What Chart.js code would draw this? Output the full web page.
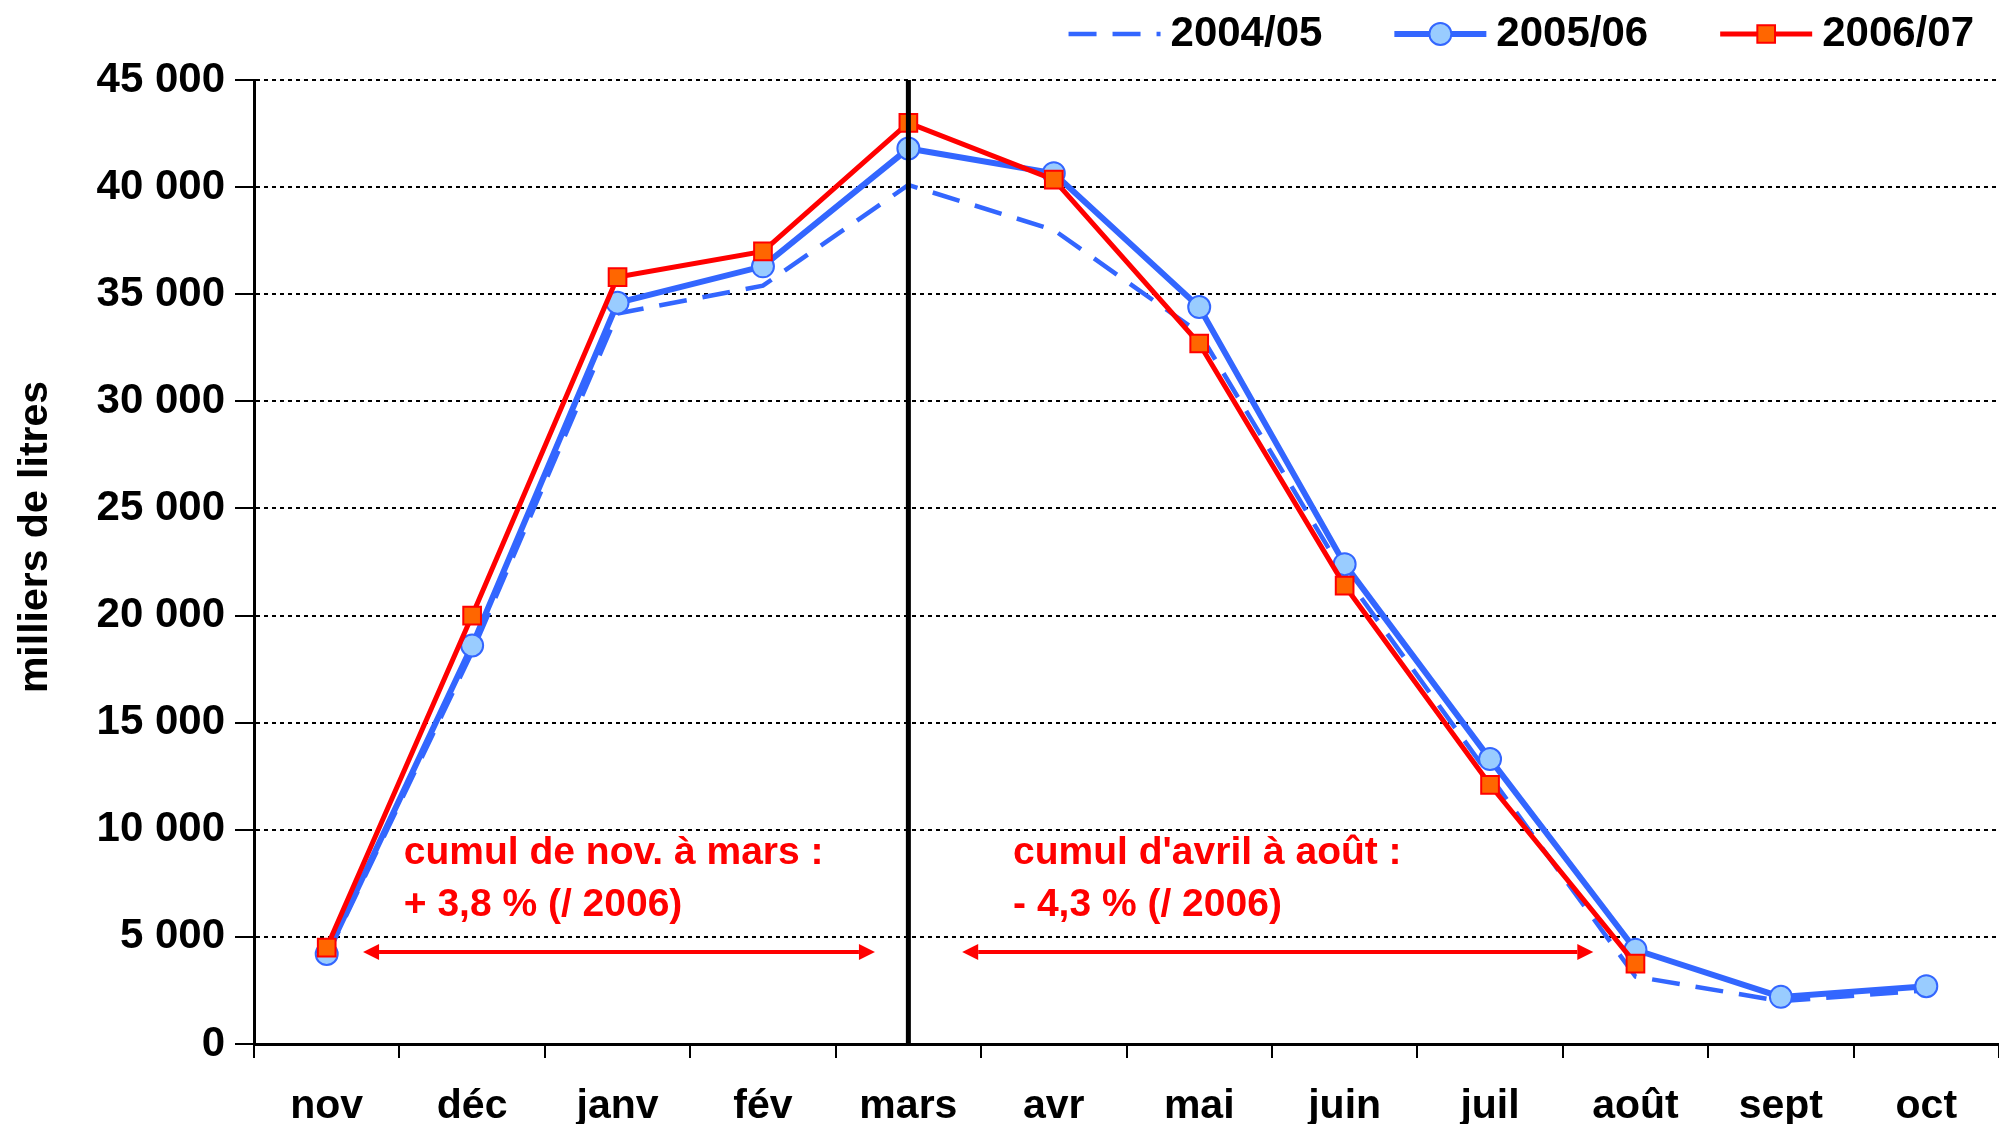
<!DOCTYPE html>
<html lang="fr">
<head>
<meta charset="utf-8">
<script src="https://cdn.jsdelivr.net/npm/chart.js@4.4.1/dist/chart.umd.min.js"></script>
<style>
    html, body { margin: 0; padding: 0; background: #fff; }
    #wrap { width: 1999px; height: 1124px; }
</style>
</head>
<body>
<div id="wrap"><canvas id="chart" width="1999" height="1124"></canvas></div>
<script>
// Données (milliers de litres)
const months = ['nov', 'déc', 'janv', 'fév', 'mars', 'avr', 'mai', 'juin', 'juil', 'août', 'sept', 'oct'];
const seriesNames = ['2004/05', '2005/06', '2006/07'];
const values0405 = [4100, 18300, 34100, 35400, 40100, 38000, 33200, 21900, 12500, 3150, 2000, 2500];
const values0506 = [4200, 18600, 34600, 36300, 41800, 40650, 34400, 22400, 13300, 4400, 2200, 2700];
const values0607 = [4500, 20000, 35800, 37000, 43000, 40350, 32700, 21400, 12100, 3750, null, null];
const yMin = 0, yMax = 45000, yStep = 5000;
const yTitle = 'milliers de litres';

// Annotations : texte, position (indice de mois, valeur)
const noteTexts = [
    ['cumul de nov. à mars :', '+ 3,8 % (/ 2006)'],
    ["cumul d'avril à août :", '- 4,3 % (/ 2006)']
];
const noteAnchors = [[0.53, 8900, 6500], [4.72, 8900, 6500]];
const arrowSpans = [[0.25, 3.77, 4300], [4.37, 8.71, 4300]];
const splitMonth = 'mars';

const FONT = "'Liberation Sans', Arial, sans-serif";

function fmt(v) {
    return String(v).replace(/\B(?=(\d{3})+(?!\d))/g, ' ');
}

// ligne verticale à mars
const splitLine = {
    id: 'splitLine',
    afterDatasetsDraw(chart) {
        const { ctx, chartArea, scales } = chart;
        const x = scales.x.getPixelForValue(months.indexOf(splitMonth));
        ctx.save();
        ctx.strokeStyle = '#000';
        ctx.lineWidth = 5;
        ctx.beginPath();
        ctx.moveTo(x, chartArea.top);
        ctx.lineTo(x, chartArea.bottom);
        ctx.stroke();
        ctx.restore();
    }
};

// titre de l'axe y
const axisTitle = {
    id: 'axisTitle',
    afterDraw(chart) {
        const ctx = chart.ctx;
        ctx.save();
        ctx.translate(36, 537);
        ctx.rotate(-Math.PI / 2);
        ctx.font = 'bold 41px ' + FONT;
        ctx.fillStyle = '#000';
        ctx.textAlign = 'center';
        ctx.textBaseline = 'middle';
        ctx.fillText(yTitle, 0, 0);
        ctx.restore();
    }
};

// textes rouges + flèches
const notes = {
    id: 'notes',
    afterDraw(chart) {
        const { ctx, scales } = chart;
        ctx.save();
        ctx.fillStyle = '#FF0000';
        ctx.strokeStyle = '#FF0000';
        ctx.font = 'bold 39px ' + FONT;
        ctx.textBaseline = 'middle';
        ctx.textAlign = 'left';
        noteTexts.forEach((lines, i) => {
            const [xi, v1, v2] = noteAnchors[i];
            const x = scales.x.getPixelForValue(xi);
            ctx.fillText(lines[0], x, scales.y.getPixelForValue(v1));
            ctx.fillText(lines[1], x, scales.y.getPixelForValue(v2));
        });
        arrowSpans.forEach(([a, b, v]) => {
            const x1 = scales.x.getPixelForValue(a);
            const x2 = scales.x.getPixelForValue(b);
            const y = scales.y.getPixelForValue(v);
            const head = 16, half = 8;
            ctx.lineWidth = 4;
            ctx.beginPath();
            ctx.moveTo(x1 + head, y);
            ctx.lineTo(x2 - head, y);
            ctx.stroke();
            ctx.beginPath();
            ctx.moveTo(x1, y);
            ctx.lineTo(x1 + head, y - half);
            ctx.lineTo(x1 + head, y + half);
            ctx.closePath();
            ctx.fill();
            ctx.beginPath();
            ctx.moveTo(x2, y);
            ctx.lineTo(x2 - head, y - half);
            ctx.lineTo(x2 - head, y + half);
            ctx.closePath();
            ctx.fill();
        });
        ctx.restore();
    }
};

// légende en haut à droite (trait + marqueur)
const topLegend = {
    id: 'topLegend',
    afterDraw(chart) {
        const ctx = chart.ctx;
        const sets = chart.data.datasets;
        const y = 34;
        let x = 1974;
        ctx.save();
        ctx.font = 'bold 42px ' + FONT;
        ctx.textBaseline = 'middle';
        ctx.textAlign = 'left';
        for (let i = sets.length - 1; i >= 0; i--) {
            const ds = sets[i];
            const w = ctx.measureText(ds.label).width;
            const tx = x - w;
            ctx.fillStyle = '#000';
            ctx.fillText(ds.label, tx, y);
            const lx2 = tx - 10, lx1 = lx2 - 92;
            ctx.strokeStyle = ds.borderColor;
            ctx.lineWidth = ds.borderWidth;
            ctx.setLineDash(ds.borderDash || []);
            ctx.beginPath();
            ctx.moveTo(lx1, y);
            ctx.lineTo(lx2, y);
            ctx.stroke();
            ctx.setLineDash([]);
            if (ds.pointRadius > 0) {
                ctx.fillStyle = ds.pointBackgroundColor;
                ctx.strokeStyle = ds.pointBorderColor;
                ctx.lineWidth = ds.pointBorderWidth;
                Chart.helpers.drawPoint(ctx, {
                    pointStyle: ds.pointStyle,
                    radius: ds.pointRadius,
                    borderWidth: ds.pointBorderWidth,
                    rotation: 0
                }, (lx1 + lx2) / 2, y);
            }
            x = lx1 - 72;
        }
        ctx.restore();
    }
};

const ctx = document.getElementById('chart').getContext('2d');
new Chart(ctx, {
    type: 'line',
    data: {
        labels: months,
        datasets: [
            {
                label: seriesNames[0],
                data: values0405,
                order: 2,
                borderColor: '#3366FF',
                borderWidth: 4.5,
                borderDash: [28, 16],
                pointRadius: 0,
                fill: false,
                tension: 0
            },
            {
                label: seriesNames[1],
                data: values0506,
                order: 1,
                borderColor: '#3366FF',
                borderWidth: 6,
                pointStyle: 'circle',
                pointRadius: 11,
                pointBackgroundColor: '#99CCFF',
                pointBorderColor: '#3366FF',
                pointBorderWidth: 2,
                fill: false,
                tension: 0
            },
            {
                label: seriesNames[2],
                data: values0607,
                order: 0,
                borderColor: '#FF0000',
                borderWidth: 5,
                pointStyle: 'rect',
                pointRadius: 12.5,
                pointBackgroundColor: '#FF6600',
                pointBorderColor: '#FF0000',
                pointBorderWidth: 2,
                fill: false,
                spanGaps: false,
                tension: 0
            }
        ]
    },
    options: {
        responsive: false,
        animation: false,
        events: [],
        clip: false,
        layout: { autoPadding: false, padding: { top: 80, right: 0, bottom: 0, left: 0 } },
        plugins: {
            legend: { display: false },
            tooltip: { enabled: false }
        },
        scales: {
            x: {
                offset: true,
                grid: {
                    offset: true,
                    drawOnChartArea: false,
                    drawTicks: true,
                    tickLength: 14,
                    color: '#000',
                    lineWidth: 2
                },
                border: { color: '#000', width: 3 },
                ticks: {
                    color: '#000',
                    font: { family: FONT, size: 41, weight: 'bold' },
                    padding: 24,
                    maxRotation: 0,
                    autoSkip: false
                },
                afterFit(scale) {
                    scale.height = 80;
                    scale.paddingLeft = 0;
                    scale.paddingRight = 0;
                }
            },
            y: {
                min: yMin,
                max: yMax,
                ticks: {
                    stepSize: yStep,
                    color: '#000',
                    font: { family: FONT, size: 42, weight: 'bold' },
                    padding: 10,
                    callback: v => fmt(v)
                },
                grid: {
                    color: '#000',
                    lineWidth: 2,
                    drawTicks: true,
                    tickLength: 19,
                    tickBorderDash: []
                },
                border: { color: '#000', width: 3, dash: [4, 4] },
                afterFit(scale) { scale.width = 254; }
            }
        }
    },
    plugins: [splitLine, notes, axisTitle, topLegend]
});
</script>
</body>
</html>
